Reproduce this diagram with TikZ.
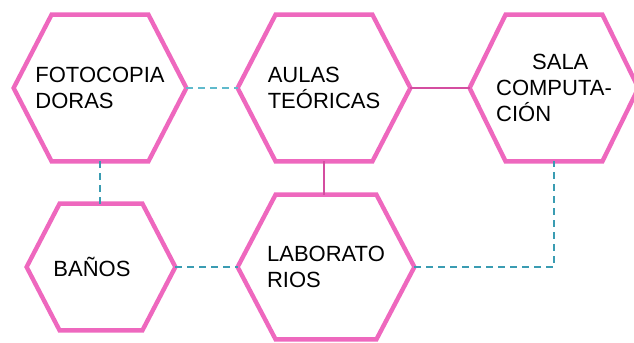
\documentclass[tikz,border=0pt]{standalone}
\usepackage{fontspec}
\setmainfont{Liberation Sans}
\usepackage{xcolor}
\definecolor{hexpink}{RGB}{238,104,190}
\definecolor{linkpink}{RGB}{212,78,160}
\definecolor{linkteal}{RGB}{58,156,178}
\definecolor{linkcyan}{RGB}{96,186,204}

\begin{document}
\begin{tikzpicture}[x=0.5pt,y=-0.5pt,font=\fontsize{11}{13}\selectfont,
  room/.style={inner sep=0pt,align=left,minimum width=86pt,minimum height=73pt},
  hexline/.style={hexpink,line width=2.2pt,line join=miter},
  solidlink/.style={linkpink,line width=1pt},
  dashlink/.style={linkteal,line width=1.3pt,dash pattern=on 3.5pt off 2.5pt}]
\useasboundingbox (0,0) rectangle (634,343);
% rooms
\node[room] (foto) at (100,88) {FOTOCOPIA\\DORAS};
\node[room] (aulas) at (324,88) {AULAS\\TEÓRICAS};
\node[room,minimum width=84pt] (sala) at (554,88) {\hspace*{18pt}SALA\\COMPUTA-\\CIÓN};
\node[room,minimum width=74pt,minimum height=63pt] (banos) at (101,267) {BAÑOS\hspace*{9pt}};
\node[room,minimum width=88pt,minimum height=72pt] (lab) at (326,267) {LABORATO\\RIOS};
% hexagon outlines
\foreach \n/\d in {foto/19pt,aulas/19pt,sala/18pt,banos/16.5pt,lab/19pt}
  \draw[hexline] (\n.west) -- ([xshift=\d]\n.north west) -- ([xshift=-\d]\n.north east)
    -- (\n.east) -- ([xshift=-\d]\n.south east) -- ([xshift=\d]\n.south west) -- cycle;
% links
\draw[dashlink,linkcyan,line width=0.9pt] (foto.east) -- (aulas.west);
\draw[solidlink] (aulas.east) -- (sala.west);
\draw[solidlink] (aulas.south) -- (aulas.south |- lab.north);
\draw[dashlink,line width=0.9pt] (foto.south) -- (foto.south |- banos.north);
\draw[dashlink] (banos.east) -- (lab.west);
\draw[dashlink] (lab.east) -| (sala.south);
\end{tikzpicture}
\end{document}
